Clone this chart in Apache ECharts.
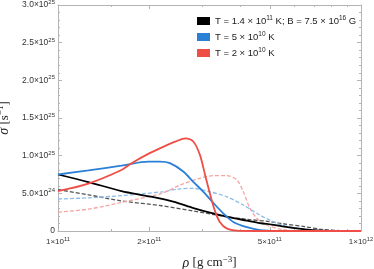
<!DOCTYPE html>
<html>
<head>
<meta charset="utf-8">
<script src="https://cdn.jsdelivr.net/npm/echarts@6/dist/echarts.min.js"></script>
<style>html,body{margin:0;padding:0;background:#fff}#c{width:374px;height:269px}</style>
</head>
<body>
<div id="c"></div>
<script>
// density values (g cm^-3) and sigma values (units of 1e24 s^-1)
const blackRho = [1.0e11,1.26e11,1.62e11,2.0e11,2.4e11,2.8e11,3.2e11,3.6e11,4.2e11,4.64e11,5.07e11,5.5e11,6.53e11,7.4e11,8.5e11,1.0e12];
const blackSigma = [7.5,6.5,5.3,4.6,3.9,3.05,2.4,1.9,1.38,1.05,0.85,0.62,0.22,0.06,0.01,0];
const blueRho = [1.0e11,1.26e11,1.62e11,1.99e11,2.17e11,2.34e11,2.59e11,2.8e11,3.02e11,3.26e11,3.51e11,3.79e11,4.2e11,4.64e11,5.5e11,7.0e11,1.0e12];
const blueSigma = [7.5,8.05,8.67,9.2,9.2,9.0,7.9,6.5,5.2,3.7,2.35,1.2,0.5,0.13,0.02,0,0];
const redRho = [1.0e11,1.26e11,1.62e11,1.75e11,2.0e11,2.26e11,2.45e11,2.63e11,2.8e11,2.94e11,3.06e11,3.18e11,3.3e11,3.42e11,3.6e11,3.89e11,4.5e11,1.0e12];
const redSigma = [5.3,6.3,8.1,9.0,10.3,11.3,11.9,12.3,11.85,10.1,7.4,4.8,2.6,1.2,0.35,0.05,0,0];
const blackDashRho = [1.0e11,1.26e11,1.62e11,2.2e11,2.8e11,3.6e11,4.2e11,5.0e11,5.5e11,6.53e11,7.41e11,8.5e11,1.0e12];
const blackDashSigma = [5.5,4.8,4.0,3.35,2.65,1.9,1.55,1.25,0.98,0.57,0.22,0.05,0];
const blueDashRho = [1.0e11,1.26e11,1.62e11,2.2e11,2.53e11,2.8e11,3.18e11,3.6e11,4.09e11,4.64e11,5.0e11,5.47e11,6.53e11,8.0e11,1.0e12];
const blueDashSigma = [4.25,4.4,4.7,5.2,5.6,5.65,5.2,4.55,3.45,2.1,1.45,0.8,0.2,0.02,0];
const redDashRho = [1.0e11,1.26e11,1.62e11,2.2e11,2.53e11,2.94e11,3.26e11,3.6e11,3.89e11,4.09e11,4.3e11,4.53e11,4.88e11,5.5e11,6.5e11,1.0e12];
const redDashSigma = [2.5,2.9,3.8,5.0,6.1,7.0,7.35,7.35,6.8,5.2,3.0,1.7,0.8,0.2,0.02,0];

const xMajorTicks = [1e11, 2e11, 5e11, 1e12];
const xMinorTicks = [1.5e11, 3e11, 4e11, 6e11, 7e11, 8e11, 9e11];
const yTicks = [0, 5, 10, 15, 20, 25, 30];
const SIGMA_UNIT = 1e24;

const legendLabels = {
  black: '{m|T = 1.4 × 10}{s|11}{m| K; B = 7.5 × 10}{s|16}{m| G}',
  blue: '{m|T = 5 × 10}{s|10}{m| K}',
  red: '{m|T = 2 × 10}{s|10}{m| K}'
};

const pair = (xs, ys) => xs.map((x, i) => [x, ys[i]]);
const AX = '#b4b4b4';
const SANS = 'Liberation Sans, Arial, sans-serif';
const SERIF = 'Liberation Serif, Times New Roman, serif';
const yRich = {
  m: {fontSize: 8.5, fontFamily: SANS, color: '#333'},
  s: {fontSize: 6, fontFamily: SANS, color: '#333', padding: [0, 0, 5, 0]}
};
const xRich = {
  m: {fontSize: 8, fontFamily: SANS, color: '#333'},
  s: {fontSize: 5.8, fontFamily: SANS, color: '#333', padding: [0, 0, 5, 0]}
};
const expMajor = xMajorTicks.map(Math.log10);
const expMinor = xMinorTicks.map(Math.log10);
function xFmt(v) {
  const e = Math.floor(v + 1e-9);
  const m = Math.round(Math.pow(10, v - e));
  return '{m|' + m + '×10}{s|' + e + '}';
}
function yFmt(v) {
  if (v === 0) return '{m|0}';
  const val = v * SIGMA_UNIT;
  const e = Math.floor(Math.log10(val) + 1e-9);
  const m = val / Math.pow(10, e);
  return '{m|' + m.toFixed(1) + '×10}{s|' + e + '}';
}
const xBase = {type: 'value', min: 11, max: 12, splitLine: {show: false}};
const chart = echarts.init(document.getElementById('c'), null, {renderer: 'canvas'});
const lineS = (name, xs, ys, color, dashed, z) => ({
  type: 'line', name, data: pair(xs, ys), xAxisIndex: 0, yAxisIndex: 0,
  showSymbol: false, smooth: 0.3, silent: true, z,
  itemStyle: {color},
  lineStyle: {color, width: dashed ? 1.3 : 1.8, type: dashed ? [4, 2] : 'solid'}
});
const titleRich = {
  i: {fontSize: 14, fontFamily: SERIF, fontStyle: 'italic', color: '#222'},
  n: {fontSize: 13, fontFamily: SERIF, color: '#222'},
  s: {fontSize: 9, fontFamily: SERIF, color: '#222', padding: [0, 0, 7, 0]}
};
chart.setOption({
  animation: false,
  grid: {left: 58, right: 13, top: 5, bottom: 38, containLabel: false, outerBoundsMode: 'none'},
  legend: {
    data: ['black', 'blue', 'red'], orient: 'vertical', left: 192, top: 10,
    icon: 'rect', itemWidth: 13, itemHeight: 8, itemGap: 5,
    formatter: n => legendLabels[n],
    textStyle: {color: '#222', rich: {
      m: {fontSize: 9.5, fontFamily: SANS, color: '#222'},
      s: {fontSize: 6.5, fontFamily: SANS, color: '#222', padding: [0, 0, 5, 0]}
    }}
  },
  xAxis: [
    {type: 'log', logBase: 10, min: 1e11, max: 1e12, show: false},
    Object.assign({}, xBase, {
      position: 'bottom',
      axisLine: {show: true, lineStyle: {color: AX, width: 1}},
      axisTick: {show: true, inside: true, length: 4, lineStyle: {color: AX}, customValues: expMajor},
      axisLabel: {show: true, margin: 5, customValues: expMajor, formatter: xFmt, rich: xRich},
      name: '{i|ρ} {n|[g cm}{s|−3}{n|]}', nameLocation: 'middle', nameGap: 24,
      nameTextStyle: {rich: titleRich}
    }),
    Object.assign({}, xBase, {
      position: 'bottom', axisLine: {show: false},
      axisTick: {show: true, inside: true, length: 2, lineStyle: {color: AX}, customValues: expMinor},
      axisLabel: {show: false}
    }),
    Object.assign({}, xBase, {
      position: 'top',
      axisLine: {show: true, lineStyle: {color: AX, width: 1}},
      axisTick: {show: true, inside: true, length: 4, lineStyle: {color: AX}, customValues: expMajor},
      axisLabel: {show: false}
    }),
    Object.assign({}, xBase, {
      position: 'top', axisLine: {show: false},
      axisTick: {show: true, inside: true, length: 2, lineStyle: {color: AX}, customValues: expMinor},
      axisLabel: {show: false}
    })
  ],
  yAxis: [
    {
      type: 'value', min: yTicks[0], max: yTicks[yTicks.length - 1], interval: 5, position: 'left',
      axisLine: {show: true, lineStyle: {color: AX, width: 1}},
      axisTick: {show: true, inside: true, length: 4, lineStyle: {color: AX}},
      minorTick: {show: true, splitNumber: 5, length: 2, lineStyle: {color: AX}},
      splitLine: {show: false},
      axisLabel: {margin: 3, formatter: yFmt, rich: yRich},
      name: '{i|σ} {n|[s}{s|−1}{n|]}', nameLocation: 'middle', nameGap: 42, nameRotate: 90,
      nameTextStyle: {rich: titleRich}
    },
    {
      type: 'value', min: yTicks[0], max: yTicks[yTicks.length - 1], interval: 5, position: 'right',
      axisLine: {show: true, lineStyle: {color: AX, width: 1}},
      axisTick: {show: true, inside: true, length: 4, lineStyle: {color: AX}},
      minorTick: {show: true, splitNumber: 5, length: 2, lineStyle: {color: AX}},
      splitLine: {show: false}, axisLabel: {show: false}
    }
  ],
  series: [
    lineS('blackDash', blackDashRho, blackDashSigma, '#555555', true, 2),
    lineS('blueDash', blueDashRho, blueDashSigma, '#8cbbec', true, 2),
    lineS('redDash', redDashRho, redDashSigma, '#f4a6a2', true, 2),
    lineS('black', blackRho, blackSigma, '#000000', false, 3),
    lineS('blue', blueRho, blueSigma, '#2a7fd6', false, 3),
    lineS('red', redRho, redSigma, '#ee4e46', false, 3)
  ]
});
</script>
</body>
</html>
